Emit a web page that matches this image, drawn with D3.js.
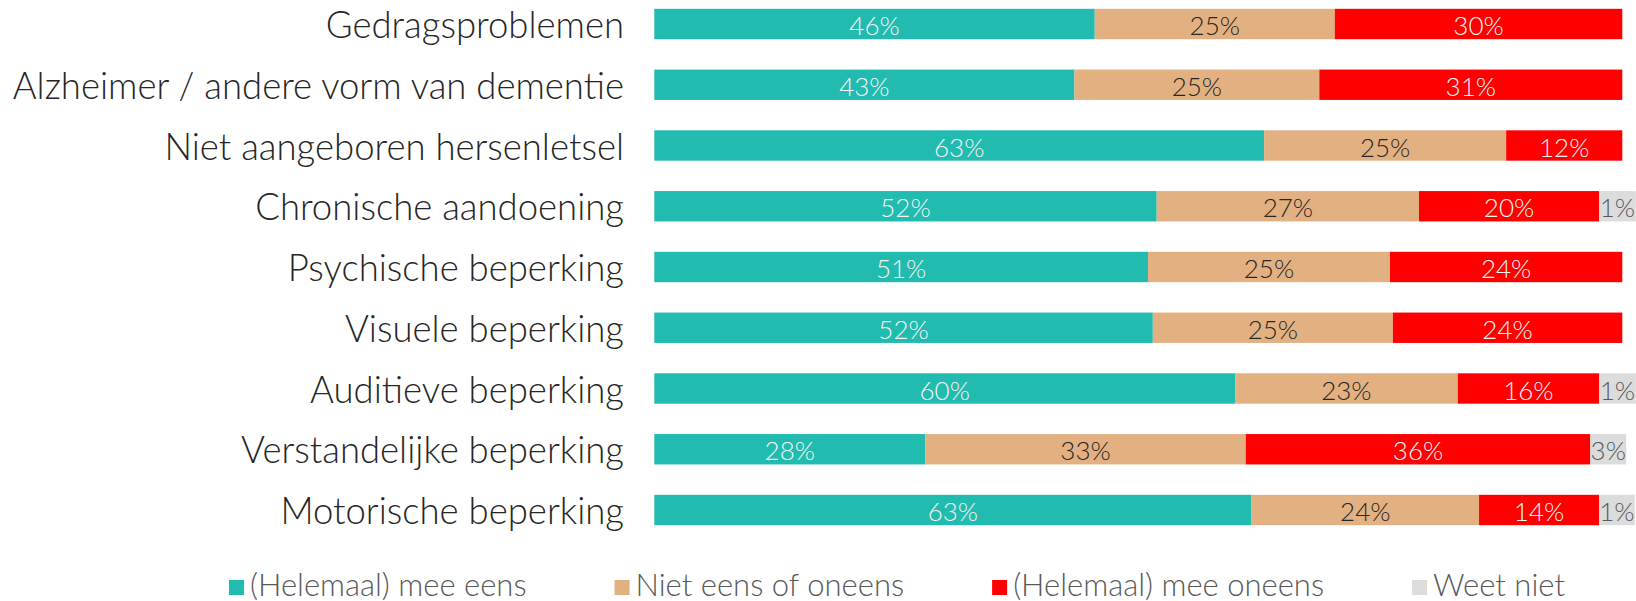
<!DOCTYPE html>
<html>
<head>
<meta charset="utf-8">
<script src="https://cdn.jsdelivr.net/npm/d3@7"></script>
<style>
  body { margin: 0; background: #fff; }
  svg { display: block; }
  text { font-family: Lato, "Noto Sans", sans-serif; font-weight: 300; }
</style>
</head>
<body>
<svg id="chart" width="1636" height="601"></svg>
<script>
// categories, top to bottom
const categories = ['Gedragsproblemen', 'Alzheimer / andere vorm van dementie', 'Niet aangeboren hersenletsel',
  'Chronische aandoening', 'Psychische beperking', 'Visuele beperking', 'Auditieve beperking',
  'Verstandelijke beperking', 'Motorische beperking'];
const seriesNames = ['(Helemaal) mee eens', 'Niet eens of oneens', '(Helemaal) mee oneens', 'Weet niet'];

// bar lengths (percent)
const meeEens   = [45.5, 43.4, 63.0, 51.9, 51.0, 51.5, 60.0, 28.0, 61.7];
const neutraal  = [24.8, 25.3, 25.0, 27.1, 25.0, 24.8, 23.0, 33.1, 23.5];
const meeOneens = [29.7, 31.3, 12.0, 18.6, 24.0, 23.7, 14.6, 35.6, 12.4];
const weetNiet  = [0, 0, 0, 3.8, 0, 0, 3.8, 3.7, 3.7];

// data labels as printed on the bars
const lblEens   = ['46%', '43%', '63%', '52%', '51%', '52%', '60%', '28%', '63%'];
const lblNeutr  = ['25%', '25%', '25%', '27%', '25%', '25%', '23%', '33%', '24%'];
const lblOneens = ['30%', '31%', '12%', '20%', '24%', '24%', '16%', '36%', '14%'];
const lblWeet   = ['', '', '', '1%', '', '', '1%', '3%', '1%'];

const colors = ['#21bbaf', '#e3b181', '#ff0000', '#dcdcdc'];
const labelColors = ['#f4f4f4', '#262626', '#f4f4f4', '#595959'];

const rows = categories.map((c, i) => ({
  cat: c, s0: meeEens[i], s1: neutraal[i], s2: meeOneens[i], s3: weetNiet[i],
  l0: lblEens[i], l1: lblNeutr[i], l2: lblOneens[i], l3: lblWeet[i]
}));
const keys = ['s0', 's1', 's2', 's3'];

const svg = d3.select('#chart');
const x = d3.scaleLinear().domain([0, 100]).range([654.3, 1622.3]);
const y = d3.scaleBand().domain(categories).range([-6.375, 540.375]).paddingInner(0.5).paddingOuter(0.25);

const stacked = d3.stack().keys(keys)(rows);

const layers = svg.selectAll('g.layer').data(stacked).join('g').attr('class', 'layer')
  .attr('fill', (d, i) => colors[i]);

layers.selectAll('rect').data(d => d.filter(p => p[1] - p[0] > 0)).join('rect')
  .attr('x', d => x(d[0]))
  .attr('y', d => y(d.data.cat))
  .attr('width', d => x(d[1]) - x(d[0]))
  .attr('height', y.bandwidth());

stacked.forEach((layer, i) => {
  svg.append('g').selectAll('text').data(layer.filter(p => p[1] - p[0] > 0)).join('text')
    .attr('x', d => (x(d[0]) + x(d[1])) / 2)
    .attr('y', d => y(d.data.cat) + y.bandwidth() / 2 + 1)
    .attr('text-anchor', 'middle')
    .attr('dominant-baseline', 'central')
    .style('font-size', '26px')
    .style('fill', labelColors[i])
    .text(d => d.data['l' + i]);
});

// category labels
svg.append('g').selectAll('text').data(categories).join('text')
  .attr('x', 624)
  .attr('y', d => y(d) + y.bandwidth() / 2)
  .attr('text-anchor', 'end')
  .attr('dominant-baseline', 'central')
  .style('font-size', '36.5px')
  .style('fill', '#262626')
  .text(d => d);

// legend, equal gaps between entries, centred
const legend = svg.append('g');
const items = legend.selectAll('g').data(seriesNames).join('g');
items.append('rect').attr('width', 15).attr('height', 15).attr('y', 580)
  .attr('fill', (d, i) => colors[i]);
items.append('text').attr('x', 21).attr('y', 596)
  .style('font-size', '31px').style('fill', '#595959').text(d => d);
const widths = [];
items.each(function () { widths.push(21 + d3.select(this).select('text').node().getComputedTextLength()); });
const gap = 88;
const total = d3.sum(widths) + gap * (widths.length - 1);
let pos = 897 - total / 2;
items.attr('transform', (d, i) => {
  const t = 'translate(' + pos + ',0)';
  pos += widths[i] + gap;
  return t;
});
</script>
</body>
</html>
